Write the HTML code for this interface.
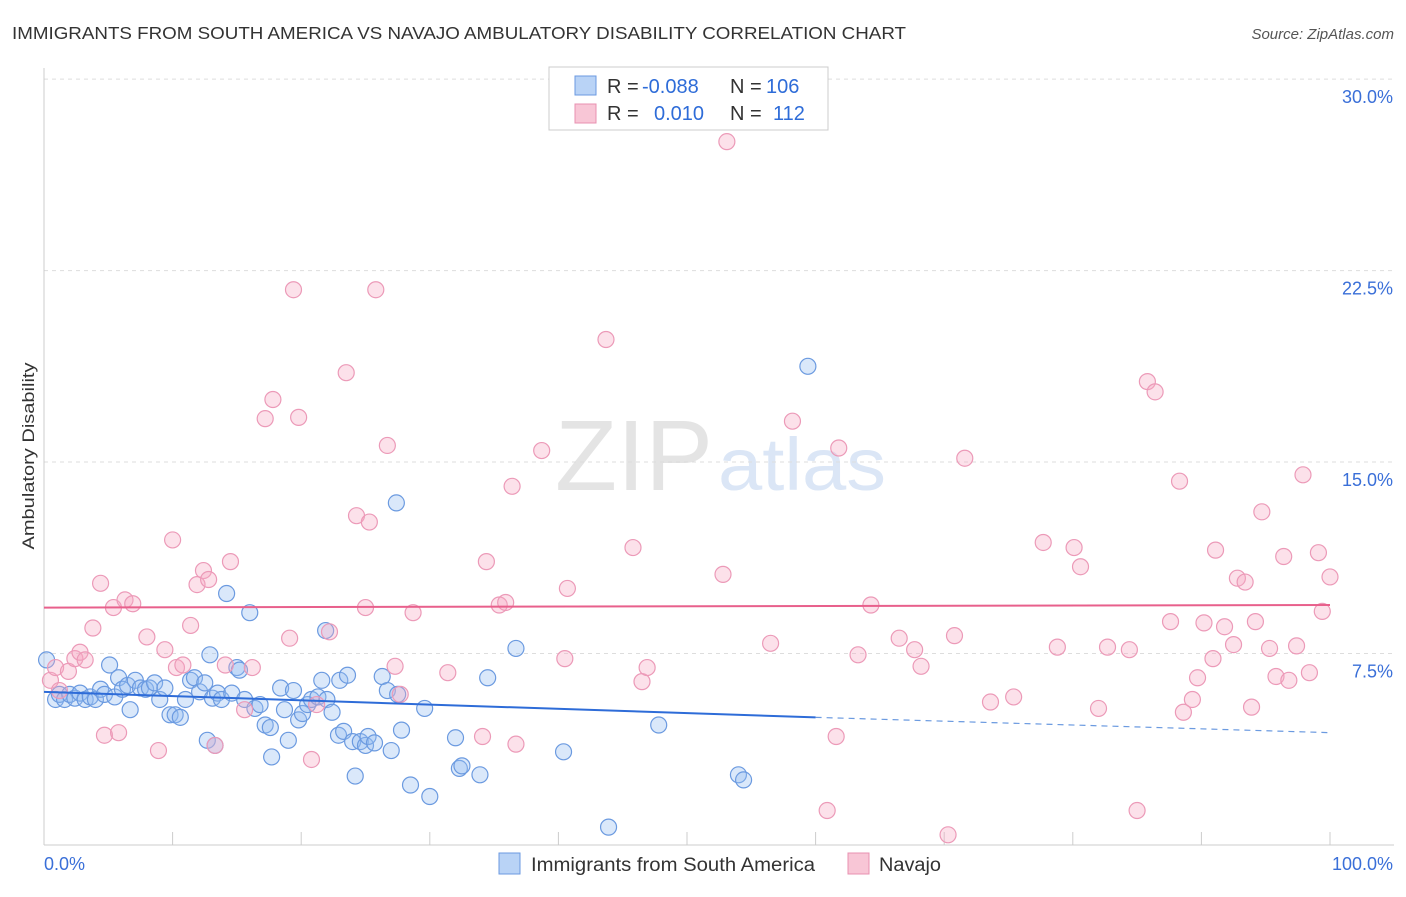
<!DOCTYPE html>
<html><head><meta charset="utf-8"><style>
body{margin:0;background:#fff;font-family:"Liberation Sans",sans-serif;}
svg text{font-family:"Liberation Sans",sans-serif;}
</style></head><body>
<svg width="1406" height="892" xmlns="http://www.w3.org/2000/svg" id="svg">
<text x="12" y="39" font-size="17.5" fill="#333" textLength="894" lengthAdjust="spacingAndGlyphs">IMMIGRANTS FROM SOUTH AMERICA VS NAVAJO AMBULATORY DISABILITY CORRELATION CHART</text>
<text x="1394" y="39" font-size="15" fill="#555" text-anchor="end" font-style="italic">Source: ZipAtlas.com</text>
<text x="555" y="490" font-size="100" fill="#e4e4e4" textLength="158" lengthAdjust="spacingAndGlyphs" font-family="Liberation Serif">ZIP</text>
<text x="718" y="490" font-size="74" fill="#dbe6f6" textLength="168" lengthAdjust="spacingAndGlyphs">atlas</text>
<text transform="translate(34,456) rotate(-90)" font-size="17" fill="#333" text-anchor="middle" textLength="187" lengthAdjust="spacingAndGlyphs">Ambulatory Disability</text>
<g id="grid"></g><g id="pts"></g><g id="lines"></g>
<g>
<rect x="549" y="67" width="279" height="63" fill="#fff" stroke="#ccc"/>
<rect x="575" y="76" width="21" height="19" fill="#b9d3f6" stroke="#6b9ae0"/>
<rect x="575" y="104" width="21" height="19" fill="#f8c6d6" stroke="#e890b0"/>
<text x="607" y="93" font-size="20" fill="#333">R =</text>
<text x="642" y="93" font-size="20" fill="#2e6cd8">-0.088</text>
<text x="730" y="93" font-size="20" fill="#333">N =</text>
<text x="766" y="93" font-size="20" fill="#2e6cd8">106</text>
<text x="607" y="120" font-size="20" fill="#333">R =</text>
<text x="654" y="120" font-size="20" fill="#2e6cd8">0.010</text>
<text x="730" y="120" font-size="20" fill="#333">N =</text>
<text x="773" y="120" font-size="20" fill="#2e6cd8">112</text>
</g>
<g>
<rect x="499" y="853" width="21" height="21" fill="#b9d3f6" stroke="#6b9ae0"/>
<text x="531" y="871" font-size="19" fill="#333" textLength="284" lengthAdjust="spacingAndGlyphs">Immigrants from South America</text>
<rect x="848" y="853" width="21" height="21" fill="#f8c6d6" stroke="#e890b0"/>
<text x="879" y="871" font-size="19" fill="#333" textLength="62" lengthAdjust="spacingAndGlyphs">Navajo</text>
</g>
</svg>
<script>
const yTicks=[7.5,15,22.5,30];
const yTickLabels=["7.5%","15.0%","22.5%","30.0%"];
const xTicks=[0,10,20,30,40,50,60,70,80,90,100];
const blueX=[0.2,0.9,1.2,1.6,2.0,2.4,2.8,3.2,3.6,4.0,4.4,4.7,5.1,5.5,5.8,6.1,6.5,6.7,7.1,7.5,7.9,8.2,8.6,9.0,9.4,9.8,10.2,10.6,11.0,11.4,11.7,12.1,12.5,12.9,13.1,13.5,13.8,14.2,14.6,15.0,15.2,15.6,16.0,16.4,16.8,17.2,17.6,17.7,18.4,18.7,19.0,19.4,19.8,20.1,20.5,20.8,21.3,21.6,21.9,22.0,22.4,22.9,23.0,23.3,23.6,24.0,24.2,24.6,25.0,25.2,25.7,26.3,26.7,27.0,27.4,27.5,27.8,28.5,29.6,30.0,32.0,32.3,32.5,33.9,34.5,36.7,40.4,43.9,47.8,54.0,54.4,59.4,12.7,13.3];
const blueY=[7.25,5.7,5.9,5.7,5.9,5.75,5.95,5.7,5.8,5.7,6.1,5.9,7.05,5.8,6.55,6.1,6.25,5.3,6.45,6.15,6.1,6.15,6.35,5.7,6.15,5.1,5.1,5.0,5.7,6.45,6.55,6.0,6.35,7.45,5.75,5.95,5.7,9.85,5.95,6.95,6.85,5.7,9.1,5.35,5.5,4.7,4.6,3.45,6.15,5.3,4.1,6.05,4.9,5.15,5.5,5.7,5.8,6.45,8.4,5.7,5.2,4.3,6.45,4.45,6.65,4.05,2.7,4.05,3.9,4.25,4.0,6.6,6.05,3.7,13.4,5.9,4.5,2.35,5.35,1.9,4.2,3.0,3.1,2.75,6.55,7.7,3.65,0.7,4.7,2.75,2.55,18.75,4.1,3.9];
const pinkX=[0.5,0.9,1.2,1.9,2.4,2.8,3.2,3.8,4.4,4.7,5.4,5.8,6.3,6.9,8.0,8.9,9.4,10.0,10.3,10.8,11.4,11.9,12.4,12.8,13.3,14.1,14.5,15.6,16.2,17.2,17.8,19.1,19.4,19.8,20.8,21.2,22.2,23.5,24.3,25.0,25.3,25.8,26.7,27.3,27.7,28.7,31.4,34.1,34.4,35.4,35.9,36.4,36.7,38.7,40.5,40.7,43.7,45.8,46.5,46.9,52.8,53.1,56.5,58.2,60.9,61.6,61.8,63.3,64.3,66.5,67.7,68.2,70.3,70.8,71.6,73.6,75.4,77.7,78.8,80.1,80.6,82.0,82.7,84.4,85.0,85.8,86.4,87.6,88.3,88.6,89.3,89.7,90.2,90.9,91.1,91.8,92.5,92.8,93.4,93.9,94.2,94.7,95.3,95.8,96.4,96.8,97.4,97.9,98.4,99.1,99.4,100];
const pinkY=[6.45,6.95,6.05,6.8,7.3,7.55,7.25,8.5,10.25,4.3,9.3,4.4,9.6,9.45,8.15,3.7,7.65,11.95,6.95,7.05,8.6,10.2,10.75,10.4,3.9,7.05,11.1,5.3,6.95,16.7,17.45,8.1,21.75,16.75,3.35,5.5,8.35,18.5,12.9,9.3,12.65,21.75,15.65,7.0,5.9,9.1,6.75,4.25,11.1,9.4,9.5,14.05,3.95,15.45,7.3,10.05,19.8,11.65,6.4,6.95,10.6,27.55,7.9,16.6,1.35,4.25,15.55,7.45,9.4,8.1,7.65,7.0,0.4,8.2,15.15,5.6,5.8,11.85,7.75,11.65,10.9,5.35,7.75,7.65,1.35,18.15,17.75,8.75,14.25,5.2,5.7,6.55,8.7,7.3,11.55,8.55,7.85,10.45,10.3,5.4,8.75,13.05,7.7,6.6,11.3,6.45,7.8,14.5,6.75,11.45,9.15,10.5];
const blueTrend=[6.0,5.0,4.4];
const pinkTrend=[9.3,9.4];
const NS="http://www.w3.org/2000/svg";
const X=v=>44+v*12.86, Y=v=>845-v*25.53;
function mk(t,a,p){const e=document.createElementNS(NS,t);for(const k in a)e.setAttribute(k,a[k]);p.appendChild(e);return e;}
const g=document.getElementById('grid');
yTicks.forEach((t,i)=>{
 const l=mk('line',{x1:44,x2:1394,y1:Y(t),y2:Y(t),stroke:'#ddd','stroke-dasharray':'4,4'},g);
 
 
 const tx=mk('text',{x:1393,y:Y(t)+24,'font-size':18,fill:'#3a6fd8','text-anchor':'end'},g);
 tx.textContent=yTickLabels[i];
 
 
});
mk('line',{x1:44,x2:44,y1:68,y2:845,stroke:'#ccc'},g);
mk('line',{x1:44,x2:1394,y1:845,y2:845,stroke:'#ccc'},g);
xTicks.forEach(t=>{const l=mk('line',{x1:X(t),x2:X(t),y1:832,y2:845,stroke:'#ccc'},g);
 
 });
const a=mk('text',{x:44,y:870,'font-size':18,fill:'#3a6fd8'},g);a.textContent='0.0%';


const b=mk('text',{x:1393,y:870,'font-size':18,fill:'#3a6fd8','text-anchor':'end'},g);b.textContent='100.0%';


const p=document.getElementById('pts');
blueX.forEach((x,i)=>{const c=mk('circle',{cx:X(x),cy:Y(blueY[i]),r:8,fill:'rgba(150,190,240,0.35)',stroke:'#6b9ae0','stroke-width':1.2},p);
 
 });
pinkX.forEach((x,i)=>{const c=mk('circle',{cx:X(x),cy:Y(pinkY[i]),r:8,fill:'rgba(245,170,195,0.35)',stroke:'#ec9ab8','stroke-width':1.2},p);
 
 });
const L=document.getElementById('lines');
const t1=mk('line',{x1:X(0),y1:Y(blueTrend[0]),x2:X(60),y2:Y(blueTrend[1]),stroke:'#2e6cd8','stroke-width':2},L);


const t2=mk('line',{x1:X(60),y1:Y(blueTrend[1]),x2:X(100),y2:Y(blueTrend[2]),stroke:'#6b9ae0','stroke-width':1.2,'stroke-dasharray':'6,5'},L);


const t3=mk('line',{x1:X(0),y1:Y(pinkTrend[0]),x2:X(100),y2:Y(pinkTrend[1]),stroke:'#e8608c','stroke-width':2},L);


</script>
</body></html>
